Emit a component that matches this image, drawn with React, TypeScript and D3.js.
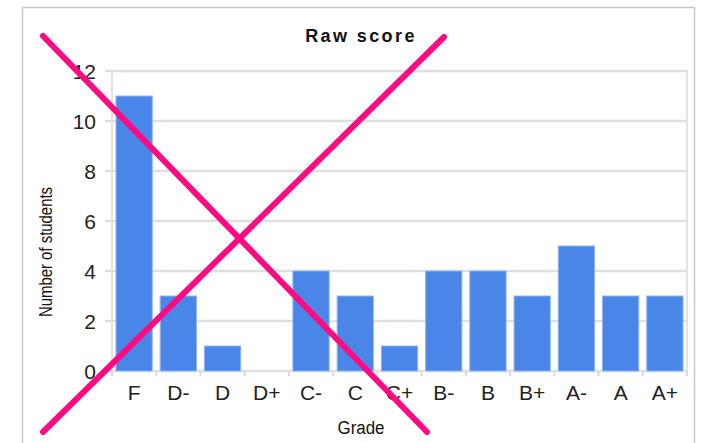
import React, { useRef, useEffect } from 'react';
import * as d3 from 'd3';

// grade distribution
const grades = ['F', 'D-', 'D', 'D+', 'C-', 'C', 'C+', 'B-', 'B', 'B+', 'A-', 'A', 'A+'];
const students = [11, 3, 1, 0, 4, 3, 1, 4, 4, 3, 5, 3, 3];
const yTicks = [0, 2, 4, 6, 8, 10, 12];

const W = 702;
const H = 443;

const App = () => {
  const svgRef = useRef<SVGSVGElement>(null);

  useEffect(() => {
    const svg = d3.select(svgRef.current);
    svg.selectAll('*').remove();

    const margin = { top: 71, right: 15, bottom: 72, left: 112 };
    const x = d3.scaleBand().domain(grades).range([margin.left, W - margin.right]).paddingInner(0.18).paddingOuter(0.09);
    const y = d3.scaleLinear().domain([0, 12]).range([H - margin.bottom, margin.top]);
    const font = 'Arial, "Liberation Sans", sans-serif';

    // outer frame
    svg.append('rect')
      .attr('x', 22.5).attr('y', 7.5)
      .attr('width', 672).attr('height', 460)
      .attr('fill', '#fff').attr('stroke', '#c8c8c8').attr('stroke-width', 1.5);

    // plot box
    svg.append('rect')
      .attr('x', margin.left).attr('y', y(12))
      .attr('width', W - margin.right - margin.left).attr('height', y(0) - y(12))
      .attr('fill', 'none').attr('stroke', '#e2e2e2').attr('stroke-width', 2);

    // gridlines + y labels
    const gy = svg.append('g');
    gy.selectAll('line').data(yTicks).join('line')
      .attr('x1', margin.left - 7).attr('x2', W - margin.right)
      .attr('y1', d => y(d)).attr('y2', d => y(d))
      .attr('stroke', '#e0e0e0').attr('stroke-width', 2.5);
    gy.selectAll('text').data(yTicks).join('text')
      .attr('x', 96).attr('y', d => y(d)).attr('dy', '0.36em')
      .attr('text-anchor', 'end')
      .attr('font-family', font).attr('font-size', 21).attr('fill', '#222')
      .text(d => d);

    // x tick marks at band boundaries
    const bounds = grades.map(g => (x(g) as number) - x.step() * 0.09).concat([W - margin.right]);
    svg.append('g').selectAll('line').data(bounds).join('line')
      .attr('x1', d => d).attr('x2', d => d)
      .attr('y1', y(0)).attr('y2', y(0) + 5)
      .attr('stroke', '#dadada').attr('stroke-width', 2);

    // bars
    svg.append('g').selectAll('rect').data(students).join('rect')
      .attr('x', (d, i) => x(grades[i]) as number)
      .attr('y', d => y(d))
      .attr('width', x.bandwidth())
      .attr('height', d => y(0) - y(d))
      .attr('fill', '#4a86e8')
      .attr('stroke', '#8fb5f2').attr('stroke-width', d => (d > 0 ? 1 : 0));

    // x labels
    svg.append('g').selectAll('text').data(grades).join('text')
      .attr('x', d => (x(d) as number) + x.bandwidth() / 2)
      .attr('y', 400)
      .attr('text-anchor', 'middle')
      .attr('font-family', font).attr('font-size', 21).attr('fill', '#222')
      .text(d => d);

    // titles
    svg.append('text')
      .attr('x', 361).attr('y', 42)
      .attr('text-anchor', 'middle')
      .attr('font-family', font).attr('font-size', 18).attr('font-weight', 'bold')
      .attr('letter-spacing', 2.4).attr('fill', '#111')
      .text('Raw score');

    svg.append('text')
      .attr('x', 361).attr('y', 434)
      .attr('text-anchor', 'middle')
      .attr('font-family', font).attr('font-size', 18).attr('fill', '#111')
      .attr('textLength', 47).attr('lengthAdjust', 'spacingAndGlyphs')
      .text('Grade');

    svg.append('text')
      .attr('transform', 'translate(52,252) rotate(-90)')
      .attr('text-anchor', 'middle')
      .attr('font-family', font).attr('font-size', 18).attr('fill', '#111')
      .attr('textLength', 130).attr('lengthAdjust', 'spacingAndGlyphs')
      .text('Number of students');

    // the big pink cross over the chart
    const cross = [
      [[43, 36], [427, 432]],
      [[43, 432], [444, 37]],
    ];
    svg.append('g').selectAll('path').data(cross).join('path')
      .attr('d', d => d3.line()(d as [number, number][]))
      .attr('stroke', '#ff0a80').attr('stroke-width', 6)
      .attr('stroke-linecap', 'round').attr('fill', 'none');
  }, []);

  return (
    <div style={{ position: 'absolute', left: 0, top: 0 }}>
      <svg ref={svgRef} width={W} height={H} style={{ display: 'block' }} />
    </div>
  );
};

export default App;
